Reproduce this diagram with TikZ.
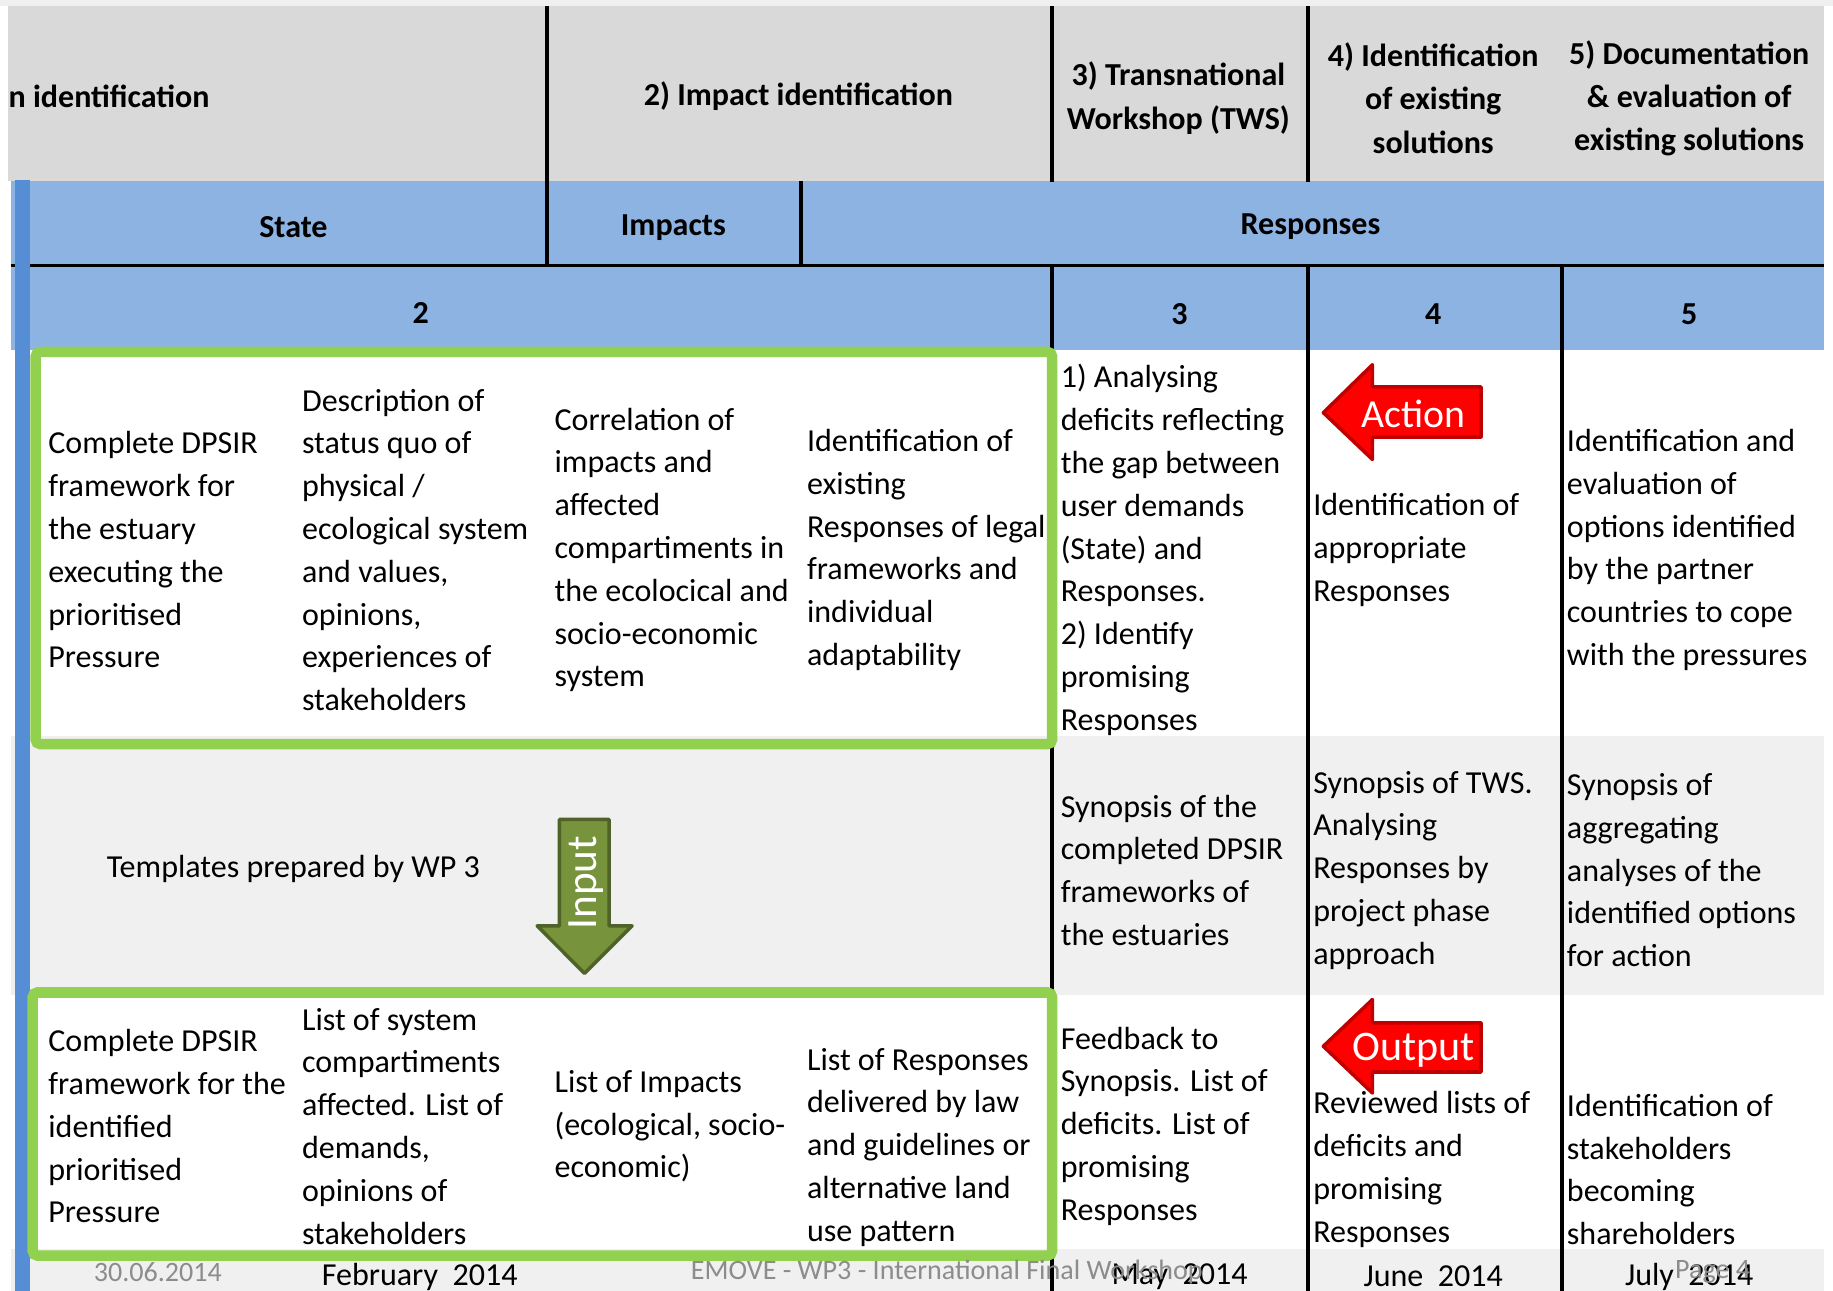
\documentclass[tikz,border=0pt]{standalone}
\usepackage{fontspec}
\setmainfont{Carlito}
\definecolor{hdrgray}{HTML}{D9D9D9}
\definecolor{rowgray}{HTML}{F0F0F0}
\definecolor{bandblue}{HTML}{8DB3E2}
\definecolor{barblue}{HTML}{558ED5}
\definecolor{boxgreen}{HTML}{92D050}
\definecolor{arrowred}{HTML}{FF0000}
\definecolor{arrowredline}{HTML}{C00000}
\definecolor{inputgreen}{HTML}{77933C}
\definecolor{inputline}{HTML}{4F6228}
\definecolor{footgray}{HTML}{8C8C8C}
\tikzset{
 body/.style={inner sep=0pt, align=left, anchor=west, yshift=-1.2pt, font=\fontsize{13.7}{18.3}\selectfont},
 head/.style={inner sep=0pt, align=center, yshift=-1pt, font=\bfseries\fontsize{13.7}{18.5}\selectfont},
 gridline/.style={line width=1.5pt, black},
 greenbox/.style={draw=boxgreen, line width=4.5pt, rounded corners=2pt},
 foot/.style={inner sep=0pt, text=footgray, yshift=-1pt, font=\fontsize{12}{14}\selectfont},
 datetext/.style={inner sep=0pt, yshift=-1pt, font=\fontsize{13.7}{16}\selectfont},
 redarrow/.style={fill=arrowred, draw=arrowredline, line width=1.5pt, line join=round},
 greenarrow/.style={fill=inputgreen, draw=inputline, line width=1.5pt, line join=round},
 arrowtext/.style={inner sep=0pt, text=white},
}
\begin{document}
\begin{tikzpicture}[x=0.5pt,y=-0.5pt]
\useasboundingbox (0,0) rectangle (1568,1104);
% backgrounds
\fill[white] (0,0) rectangle (1568,1104);
\fill[rowgray] (0,0) rectangle (1568,5);
\fill[hdrgray] (7,5) rectangle (1560,155);
\fill[bandblue] (9,155) rectangle (1560,299);
\fill[rowgray] (9,630) rectangle (1560,851);
\fill[rowgray] (9,1068) rectangle (1560,1104);
% grid lines
\draw[gridline] (9,227) -- (1560,227);
\draw[gridline] (468,5) -- (468,227);
\draw[gridline] (685,155) -- (685,227);
\draw[gridline] (900,5) -- (900,156);
\draw[gridline] (1119,5) -- (1119,156);
\draw[gridline] (900,227) -- (900,1104);
\draw[gridline] (1119,227) -- (1119,1104);
\draw[gridline] (1336,227) -- (1336,1104);
% left bar
\fill[barblue] (13,154) rectangle (26,1104);
% green boxes
\draw[greenbox] (30.5,301) rectangle (900,636.5);
\draw[greenbox] (28,849) rectangle (900,1074);
% arrows
\draw[redarrow] (1132,353) -- (1174,312) -- (1174,331) -- (1267,331) -- (1267,374) -- (1174,374) -- (1174,393) -- cycle;
\node[arrowtext, font=\fontsize{17}{20}\selectfont] (action) at (1209,354) {Action};
\draw[redarrow] (1132,895) -- (1174,855) -- (1174,875) -- (1267,875) -- (1267,917) -- (1174,917) -- (1174,935) -- cycle;
\node[arrowtext, font=\fontsize{18}{21}\selectfont] (output) at (1209,898) {Output};
\draw[greenarrow] (478.5,701) -- (521,701) -- (521,792) -- (540.7,792) -- (500,832.6) -- (459.5,792) -- (478.5,792) -- cycle;
\node[arrowtext, rotate=90, font=\fontsize{18.5}{21}\selectfont] (input) at (501,755) {Input};
% header texts
\node[head, anchor=west] (h1) at (7,80) {n identification};
\node[head] (h2) at (683,80) {2) Impact identification};
\node[head] (h3) at (1008,82) {3) Transnational\\Workshop (TWS)};
\node[head] (h4) at (1226,82) {4) Identification\\of existing\\solutions};
\node[head] (h5) at (1445,82) {5) Documentation\\\& evaluation of\\existing solutions};
\node[head] (state) at (251,192) {State};
\node[head] (impacts) at (576,193) {Impacts};
\node[head] (responses) at (1121,192) {Responses};
\node[head] (n2) at (360,266) {2};
\node[head] (n3) at (1009,267) {3};
\node[head] (n4) at (1226,267) {4};
\node[head] (n5) at (1445,267) {5};
% row A
\node[body] (a1) at (41,468) {Complete DPSIR\\framework for\\the estuary\\executing the\\prioritised\\Pressure};
\node[body] (a2) at (258,468) {Description of\\status quo of\\physical /\\ecological system\\and values,\\opinions,\\experiences of\\stakeholders};
\node[body] (a3) at (474,468) {Correlation of\\impacts and\\affected\\compartiments in\\the ecolocical and\\socio-economic\\system};
\node[body] (a4) at (690,468) {Identification of\\existing\\Responses of legal\\frameworks and\\individual\\adaptability};
\node[body] (a5) at (907,468) {1) Analysing\\deficits reflecting\\the gap between\\user demands\\(State) and\\Responses.\\2) Identify\\promising\\Responses};
\node[body] (a6) at (1123,468) {Identification of\\appropriate\\Responses};
\node[body] (a7) at (1340,468) {Identification and\\evaluation of\\options identified\\by the partner\\countries to cope\\with the pressures};
% row B
\node[body, anchor=center] (b1) at (251,741) {Templates prepared by WP 3};
\node[body] (b5) at (907,742) {Synopsis of the\\completed DPSIR\\frameworks of\\the estuaries};
\node[body] (b6) at (1123,742) {Synopsis of TWS.\\Analysing\\Responses by\\project phase\\approach};
\node[body] (b7) at (1340,742) {Synopsis of\\aggregating\\analyses of the\\identified options\\for action};
% row C
\node[body] (c1) at (41,961) {Complete DPSIR\\framework for the\\identified\\prioritised\\Pressure};
\node[body] (c2) at (258,961) {List of system\\compartiments\\affected. List of\\demands,\\opinions of\\stakeholders};
\node[body] (c3) at (474,961) {List of Impacts\\(ecological, socio-\\economic)};
\node[body] (c4) at (690,979) {List of Responses\\delivered by law\\and guidelines or\\alternative land\\use pattern};
\node[body] (c5) at (907,961) {Feedback to\\Synopsis. List of\\deficits. List of\\promising\\Responses};
\node[body] (c6) at (1123,998) {Reviewed lists of\\deficits and\\promising\\Responses};
\node[body] (c7) at (1340,998) {Identification of\\stakeholders\\becoming\\shareholders};
% row D dates
\node[datetext] (d2) at (359,1090) {February\ \ 2014};
\node[datetext] (d3) at (1009,1090) {May\ \ 2014};
\node[datetext] (d4) at (1226,1090) {June\ \ 2014};
\node[datetext] (d5) at (1445,1090) {July\ \ 2014};
% footer overlay
\node[foot] (fdate) at (135,1086) {30.06.2014};
\node[foot] (ftitle) at (810,1086) {EMOVE - WP3 - International Final Workshop};
\node[foot] (fpage) at (1465,1086) {Page 4};
\end{tikzpicture}
\end{document}
